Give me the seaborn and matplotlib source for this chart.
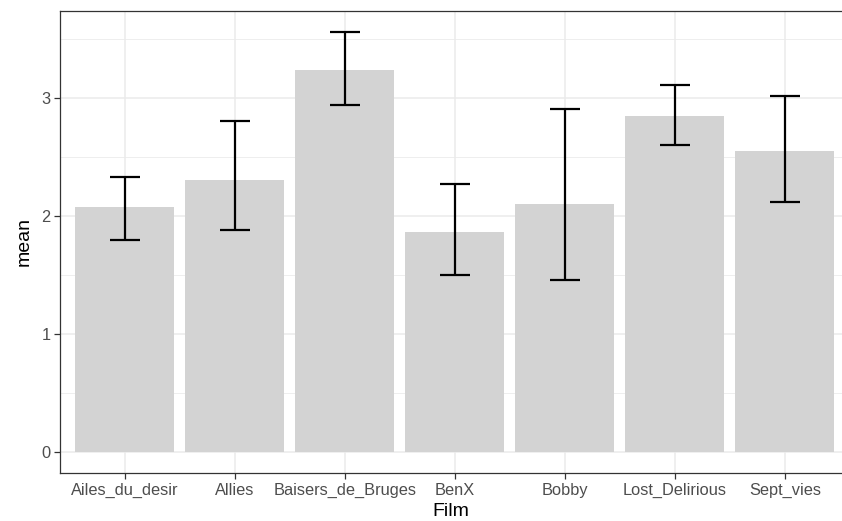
import numpy as np
import pandas as pd
import matplotlib
matplotlib.use('Agg')
import matplotlib.pyplot as plt
from matplotlib.ticker import MultipleLocator
import seaborn as sns

films = ['Ailes_du_desir', 'Allies', 'Baisers_de_Bruges', 'BenX', 'Bobby',
         'Lost_Delirious', 'Sept_vies']
means = [2.08, 2.31, 3.24, 1.87, 2.10, 2.85, 2.55]
lower = [1.80, 1.88, 2.94, 1.50, 1.46, 2.60, 2.12]
upper = [2.33, 2.81, 3.56, 2.27, 2.91, 3.11, 3.02]

df = pd.DataFrame({'Film': films, 'mean': means, 'lower': lower, 'upper': upper})

sns.set_style('white')
plt.rcParams['font.family'] = ['Liberation Sans', 'DejaVu Sans']

fig = plt.figure(figsize=(8.42, 5.21), dpi=100)
ax = fig.add_axes([60 / 842, 48 / 521, 1 - 60 / 842, 462 / 521])

grid_col = '#EBEBEB'
sns.barplot(data=df, x='Film', y='mean', color='#D3D3D3', width=0.9,
            saturation=1, errorbar=None, linewidth=0, ax=ax, zorder=2)
ax.errorbar(x=np.arange(len(films)), y=df['mean'],
            yerr=[df['mean'] - df['lower'], df['upper'] - df['mean']],
            fmt='none', ecolor='black', elinewidth=1.6, capsize=11,
            capthick=1.6, zorder=3)

ax.set_ylim(-0.178, 3.74)
ax.set_xlim(-0.59, 6.52)
ax.yaxis.set_major_locator(MultipleLocator(1))
ax.yaxis.set_minor_locator(MultipleLocator(0.5))
ax.grid(which='major', color=grid_col, linewidth=1.1, zorder=0)
ax.grid(which='minor', axis='y', color=grid_col, linewidth=0.6, zorder=0)
ax.set_axisbelow(True)

for side in ['left', 'bottom', 'top']:
    ax.spines[side].set_color('#333333')
    ax.spines[side].set_linewidth(0.9)
ax.spines['right'].set_visible(False)

ax.tick_params(axis='both', which='major', length=4, width=0.9, color='#333333',
               labelsize=11.8, labelcolor='#4D4D4D', pad=3, bottom=True, left=True)
ax.tick_params(axis='both', which='minor', length=0)
ax.set_xlabel('Film', fontsize=14, color='black', labelpad=4)
ax.set_ylabel('mean', fontsize=14, color='black', labelpad=6)

fig.savefig('out.png', dpi=100)
